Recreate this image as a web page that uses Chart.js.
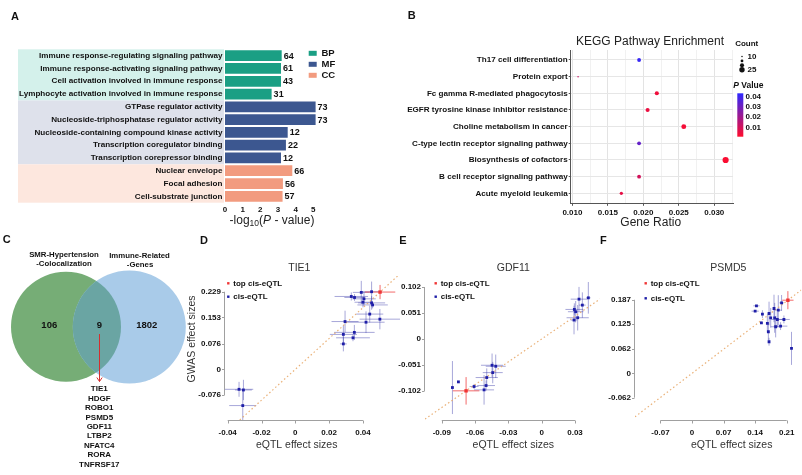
<!DOCTYPE html>
<html>
<head>
<meta charset="utf-8">
<script src="https://cdn.jsdelivr.net/npm/chart.js@4.4.1/dist/chart.umd.min.js"></script>
<style>
html, body { margin: 0; padding: 0; background: #fff; }
#wrap { position: relative; width: 802px; height: 475px; overflow: hidden; }
canvas { position: absolute; }
</style>
</head>
<body>
<div id="wrap">
  <canvas id="panelA" width="400" height="230" style="left:0;top:0"></canvas>
  <canvas id="panelB" width="402" height="230" style="left:400px;top:0"></canvas>
  <canvas id="panelC" width="200" height="245" style="left:0;top:230px"></canvas>
  <canvas id="panelD" width="220" height="245" style="left:180px;top:230px"></canvas>
  <canvas id="panelE" width="220" height="245" style="left:380px;top:230px"></canvas>
  <canvas id="panelF" width="212" height="245" style="left:590px;top:230px"></canvas>
</div>
<script>
// ---- A: GO enrichment ----
const goTerms = [
  'Immune response-regulating signaling pathway',
  'Immune response-activating signaling pathway',
  'Cell activation involved in immune response',
  'Lymphocyte activation involved in immune response',
  'GTPase regulator activity',
  'Nucleoside-triphosphatase regulator activity',
  'Nucleoside-containing compound kinase activity',
  'Transcription coregulator binding',
  'Transcription corepressor binding',
  'Nuclear envelope',
  'Focal adhesion',
  'Cell-substrate junction'
];
const goNegLogP = [3.21, 3.17, 3.17, 2.64, 5.13, 5.13, 3.55, 3.45, 3.17, 3.81, 3.28, 3.26];
const goCounts = [64, 61, 43, 31, 73, 73, 12, 22, 12, 66, 56, 57];
const goCategory = ['BP', 'BP', 'BP', 'BP', 'MF', 'MF', 'MF', 'MF', 'MF', 'CC', 'CC', 'CC'];
const goClasses = ['BP', 'MF', 'CC'];
const goXTicks = [0, 1, 2, 3, 4, 5];

// ---- B: KEGG enrichment ----
const keggPathways = [
  'Th17 cell differentiation',
  'Protein export',
  'Fc gamma R-mediated phagocytosis',
  'EGFR tyrosine kinase inhibitor resistance',
  'Choline metabolism in cancer',
  'C-type lectin receptor signaling pathway',
  'Biosynthesis of cofactors',
  'B cell receptor signaling pathway',
  'Acute myeloid leukemia'
];
const keggGeneRatio = [0.0194, 0.0108, 0.0219, 0.0206, 0.0257, 0.0194, 0.0316, 0.0194, 0.0169];
const keggCount = [19, 10, 20, 20, 23, 19, 28, 19, 17];
const keggPValue = [0.041, 0.012, 0.004, 0.005, 0.003, 0.032, 0.002, 0.010, 0.006];
const keggXTicks = [0.010, 0.015, 0.020, 0.025, 0.030];
const countBreaks = [10, 15, 20, 25];
const pBreaks = [0.01, 0.02, 0.03, 0.04];

// ---- C: Venn ----
const vennSets = [['SMR-Hypertension', '-Colocalization'], ['Immune-Related', '-Genes']];
const vennCounts = [106, 9, 1802];
const sharedGenes = ['TIE1', 'HDGF', 'ROBO1', 'PSMD5', 'GDF11', 'LTBP2', 'NFATC4', 'RORA', 'TNFRSF17'];

// ---- D-F: eQTL vs GWAS effect sizes (index 0 = top cis-eQTL) ----
const tie1Eqtl = [0.0501, 0.0451, 0.0390, 0.0331, 0.0350, 0.0406, 0.0400, 0.0451, 0.0457, 0.0440, 0.0500, 0.0418, 0.0294, 0.0349, 0.0284, 0.0341, 0.0284, -0.0333, -0.0307, -0.0311];
const tie1Gwas = [0.228, 0.229, 0.227, 0.215, 0.212, 0.208, 0.198, 0.196, 0.190, 0.163, 0.148, 0.139, 0.141, 0.109, 0.103, 0.093, 0.075, -0.059, -0.061, -0.107];
const tie1EqtlSe = [0.009, 0.006, 0.005, 0.0099, 0.006, 0.007, 0.005, 0.008, 0.009, 0.008, 0.012, 0.011, 0.008, 0.012, 0.008, 0.010, 0.002, 0.0084, 0.005, 0.008];
const tie1GwasSe = [0.021, 0.030, 0.034, 0.012, 0.010, 0.020, 0.015, 0.020, 0.010, 0.025, 0.030, 0.032, 0.032, 0.022, 0.027, 0.010, 0.022, 0.022, 0.030, 0.044];
const tie1XTicks = [-0.04, -0.02, 0, 0.02, 0.04];
const tie1YTicks = [-0.076, 0, 0.076, 0.153, 0.229];

const gdf11Eqtl = [-0.0681, 0.0336, 0.0420, 0.0366, 0.0294, 0.0306, 0.0324, 0.0291, -0.0804, -0.0750, -0.0609, -0.0519, -0.0501, -0.0495, -0.0441, -0.0447, -0.0414];
const gdf11Gwas = [-0.1017, 0.0782, 0.0808, 0.0665, 0.0580, 0.0535, 0.0417, 0.0372, -0.0952, -0.0841, -0.0932, -0.0998, -0.0913, -0.0756, -0.0659, -0.0515, -0.0535];
const gdf11EqtlSe = [0.012, 0.0075, 0.002, 0.003, 0.008, 0.007, 0.010, 0.003, 0.001, 0, 0.004, 0.009, 0.008, 0.010, 0.009, 0.010, 0.009];
const gdf11GwasSe = [0.027, 0.024, 0.031, 0.025, 0.012, 0.021, 0.025, 0.028, 0.052, 0, 0.005, 0.029, 0.010, 0.018, 0.021, 0.023, 0.023];
const gdf11XTicks = [-0.09, -0.06, -0.03, 0, 0.03];
const gdf11YTicks = [-0.102, -0.051, 0, 0.051, 0.102];

const psmd5Eqtl = [0.2126, 0.1429, 0.1400, 0.1561, 0.1708, 0.1818, 0.1986, 0.1913, 0.2038, 0.1833, 0.1891, 0.1745, 0.1671, 0.1539, 0.1964, 0.1855, 0.1693, 0.1708, 0.2206];
const psmd5Gwas = [0.1859, 0.1715, 0.1580, 0.1504, 0.1521, 0.1648, 0.1791, 0.1606, 0.1369, 0.1411, 0.1369, 0.1411, 0.1268, 0.1284, 0.1200, 0.1183, 0.1056, 0.0803, 0.0634];
const psmd5EqtlSe = [0.0125, 0.007, 0.008, 0.002, 0.003, 0.002, 0.005, 0.008, 0.013, 0.002, 0.013, 0.002, 0.002, 0.002, 0.015, 0.011, 0.002, 0.002, 0.001];
const psmd5GwasSe = [0.023, 0.002, 0.002, 0.010, 0.030, 0.035, 0.020, 0.038, 0.010, 0.038, 0.020, 0.025, 0.023, 0.003, 0.010, 0.027, 0.021, 0.010, 0.042];
const psmd5XTicks = [-0.07, 0, 0.07, 0.14, 0.21];
const psmd5YTicks = [-0.062, 0, 0.062, 0.125, 0.187];

const FONT = 'Arial, "Liberation Sans", Helvetica, sans-serif';
Chart.defaults.font.family = FONT;
Chart.defaults.color = '#111';
Chart.defaults.animation = false;
Chart.defaults.events = [];
Chart.defaults.layout.autoPadding = false;
Chart.defaults.plugins.legend.display = false;
Chart.defaults.plugins.tooltip.enabled = false;

function txt(ctx, s, x, y, font, align, color) {
  ctx.save();
  ctx.font = font;
  ctx.textAlign = align || 'center';
  ctx.textBaseline = 'middle';
  ctx.fillStyle = color || '#111';
  ctx.fillText(s, x, y);
  ctx.restore();
}

// ================= A =================
const goColor = { BP: '#1a9f84', MF: '#3c5790', CC: '#f29b7f' };
const goBand = { BP: '#d4f1eb', MF: '#dee1eb', CC: '#fde7de' };

const goPlugin = {
  id: 'goDecor',
  beforeDraw(chart) {
    const ctx = chart.ctx, ys = chart.scales.y, left = chart.chartArea.left;
    const half = (ys.getPixelForValue(1) - ys.getPixelForValue(0)) / 2;
    goClasses.forEach(cls => {
      const rows = goCategory.map((c, i) => c === cls ? i : -1).filter(i => i >= 0);
      const top = ys.getPixelForValue(rows[0]) - half;
      const bottom = ys.getPixelForValue(rows[rows.length - 1]) + half;
      ctx.fillStyle = goBand[cls];
      ctx.fillRect(18, top, left - 19, bottom - top);
    });
  },
  afterDatasetsDraw(chart) {
    const ctx = chart.ctx;
    chart.getDatasetMeta(0).data.forEach((bar, i) => {
      txt(ctx, String(goCounts[i]), bar.x + 2, bar.y + 0.5, 'bold 9px ' + FONT, 'left');
    });
  },
  afterDraw(chart) {
    const ctx = chart.ctx;
    goClasses.forEach((cls, i) => {
      const y = 53.3 + i * 11;
      ctx.fillStyle = goColor[cls];
      ctx.fillRect(308.7, y - 2.5, 8, 5);
      txt(ctx, cls, 321.5, y, 'bold 9.5px ' + FONT, 'left');
    });
    // -log10(P - value)
    const parts = [
      ['-log', '12px ' + FONT, 0],
      ['10', '8.5px ' + FONT, 3],
      ['(', '12px ' + FONT, 0],
      ['P', 'italic 12px ' + FONT, 0],
      [' - value)', '12px ' + FONT, 0]
    ];
    ctx.save();
    let w = 0;
    parts.forEach(p => { ctx.font = p[1]; w += ctx.measureText(p[0]).width; });
    let x = 272 - w / 2;
    ctx.textBaseline = 'middle';
    ctx.fillStyle = '#222';
    parts.forEach(p => {
      ctx.font = p[1];
      ctx.fillText(p[0], x, 221 + p[2]);
      x += ctx.measureText(p[0]).width;
    });
    ctx.restore();
    txt(ctx, 'A', 15, 17, 'bold 11px ' + FONT);
  }
};

new Chart(document.getElementById('panelA'), {
  type: 'bar',
  data: {
    labels: goTerms,
    datasets: [{
      data: goNegLogP,
      backgroundColor: goCategory.map(c => goColor[c]),
      barPercentage: 0.84,
      categoryPercentage: 1
    }]
  },
  options: {
    indexAxis: 'y',
    responsive: false,
    layout: { padding: { top: 49.3, right: 81.4, left: 0, bottom: 0 } },
    scales: {
      x: {
        min: 0, max: 5.3, bounds: 'data',
        afterBuildTicks: s => { s.ticks = goXTicks.map(v => ({ value: v })); },
        afterFit: s => { s.height = 27.3; },
        grid: { display: false, drawTicks: false },
        border: { display: false },
        ticks: { padding: 2, font: { size: 8, weight: 'bold' }, color: '#111', maxRotation: 0 }
      },
      y: {
        afterFit: s => { s.width = 225; },
        grid: { display: false, drawTicks: false },
        border: { display: false },
        ticks: { padding: 2.5, font: { size: 8.1, weight: 'bold' }, color: '#111', autoSkip: false }
      }
    }
  },
  plugins: [goPlugin]
});

// ================= B =================
const pMin = 0.001, pMax = 0.043;
function pColor(p) {
  const t = Math.max(0, Math.min(1, (p - pMin) / (pMax - pMin)));
  const r = Math.round(255 * (1 - t) + 45 * t);
  const g = Math.round(12 * (1 - t) + 40 * t);
  const b = Math.round(45 * (1 - t) + 255 * t);
  return 'rgb(' + r + ',' + g + ',' + b + ')';
}
function countRadius(c) { return 0.75 + (c - 10) * 0.13; }
function isMajor(v) { return Math.abs(v * 200 - Math.round(v * 200)) < 1e-6; }
const keggGridX = keggXTicks.flatMap(v => [v, v + 0.0025]);

const keggPlugin = {
  id: 'keggDecor',
  afterDraw(chart) {
    const ctx = chart.ctx;
    txt(ctx, 'B', 11.7, 16, 'bold 11px ' + FONT);
    txt(ctx, 'KEGG Pathway Enrichment', 250, 42, '12px ' + FONT, 'center', '#222');
    txt(ctx, 'Gene Ratio', 250.7, 223, '12px ' + FONT, 'center', '#222');
    // size legend
    txt(ctx, 'Count', 346.7, 43.3, 'bold 8px ' + FONT);
    countBreaks.forEach((c, i) => {
      const y = 56.5 + i * 4.4;
      ctx.beginPath();
      ctx.fillStyle = '#111';
      ctx.arc(342, y, countRadius(c), 0, Math.PI * 2);
      ctx.fill();
      if (i === 0 || i === countBreaks.length - 1) {
        txt(ctx, String(c), 347.5, y, 'bold 8px ' + FONT, 'left');
      }
    });
    // p-value colour bar
    ctx.save();
    ctx.font = 'italic bold 8.5px ' + FONT;
    const pw = ctx.measureText('P').width;
    ctx.font = 'bold 8.5px ' + FONT;
    const vw = ctx.measureText(' Value').width;
    const sx = 348.3 - (pw + vw) / 2;
    ctx.restore();
    txt(ctx, 'P', sx, 86, 'italic bold 8.5px ' + FONT, 'left');
    txt(ctx, ' Value', sx + pw, 86, 'bold 8.5px ' + FONT, 'left');
    const top = 93.3, bot = 136.7;
    const grad = ctx.createLinearGradient(0, top, 0, bot);
    for (let k = 0; k <= 10; k++) grad.addColorStop(k / 10, pColor(pMax - k / 10 * (pMax - pMin)));
    ctx.fillStyle = grad;
    ctx.fillRect(337.3, top, 6, bot - top);
    pBreaks.forEach(p => {
      const y = bot - (p - pMin) / (pMax - pMin) * (bot - top);
      txt(ctx, p.toFixed(2), 345.5, y, 'bold 8px ' + FONT, 'left');
    });
  }
};

new Chart(document.getElementById('panelB'), {
  type: 'bubble',
  data: {
    datasets: [{
      data: keggGeneRatio.map((g, i) => ({ x: g, y: i, r: countRadius(keggCount[i]) })),
      backgroundColor: keggPValue.map(pColor),
      borderWidth: 0
    }]
  },
  options: {
    responsive: false,
    layout: { padding: { top: 50, right: 69, left: 0, bottom: 0 } },
    scales: {
      x: {
        type: 'linear', min: 0.00976, max: 0.03264, bounds: 'data',
        afterBuildTicks: s => { s.ticks = keggGridX.map(v => ({ value: v })); },
        afterFit: s => { s.height = 26.7; },
        grid: {
          color: c => isMajor(c.tick.value) ? '#e3e3e3' : '#f1f1f1',
          tickColor: c => isMajor(c.tick.value) ? '#555' : 'rgba(0,0,0,0)',
          tickLength: 2.5
        },
        border: { color: '#555', width: 1 },
        ticks: {
          padding: 2, font: { size: 8, weight: 'bold' }, color: '#111', maxRotation: 0, autoSkip: false,
          callback: v => isMajor(v) ? v.toFixed(3) : ''
        }
      },
      y: {
        type: 'linear', min: -0.6, max: 8.6, reverse: true, bounds: 'data',
        afterBuildTicks: s => { s.ticks = keggPathways.map((p, i) => ({ value: i })); },
        afterFit: s => { s.width = 170.7; },
        grid: { color: '#e6e6e6', tickColor: '#555', tickLength: 2 },
        border: { color: '#555', width: 1 },
        ticks: { padding: 1, font: { size: 8.1, weight: 'bold' }, color: '#111', autoSkip: false, callback: v => keggPathways[v] }
      }
    }
  },
  plugins: [keggPlugin]
});

// ================= C =================
const vennCircles = [{ x: 66, y: 96.7, r: 55 }, { x: 129.3, y: 97, r: 56.5 }];
const vennPlugin = {
  id: 'vennDecor',
  afterDatasetsDraw(chart) {
    const ctx = chart.ctx;
    const [g, b] = chart.getDatasetMeta(0).data;
    ctx.save();
    ctx.beginPath();
    ctx.arc(g.x, g.y, g.options.radius, 0, Math.PI * 2);
    ctx.clip();
    ctx.beginPath();
    ctx.arc(b.x, b.y, b.options.radius, 0, Math.PI * 2);
    ctx.fillStyle = '#6aa5a3';
    ctx.fill();
    ctx.restore();
  },
  afterDraw(chart) {
    const ctx = chart.ctx;
    txt(ctx, 'C', 6.7, 10, 'bold 11px ' + FONT);
    txt(ctx, vennSets[0][0], 64, 25, 'bold 7.8px ' + FONT);
    txt(ctx, vennSets[0][1], 64, 34.3, 'bold 7.8px ' + FONT);
    txt(ctx, vennSets[1][0], 139.5, 25.5, 'bold 7.8px ' + FONT);
    txt(ctx, vennSets[1][1], 140, 35, 'bold 7.8px ' + FONT);
    const cx = [49.3, 99.3, 146.7];
    vennCounts.forEach((n, i) => txt(ctx, String(n), cx[i], 95, 'bold 9.5px ' + FONT));
    // arrow
    ctx.save();
    ctx.strokeStyle = '#d42f2f';
    ctx.lineWidth = 1;
    ctx.beginPath();
    ctx.moveTo(99.5, 104);
    ctx.lineTo(99.5, 151.5);
    ctx.moveTo(96.8, 147.5);
    ctx.lineTo(99.5, 151.5);
    ctx.lineTo(102.2, 147.5);
    ctx.stroke();
    ctx.restore();
    sharedGenes.forEach((gname, i) => txt(ctx, gname, 99.3, 159 + i * 9.45, 'bold 8px ' + FONT));
  }
};

new Chart(document.getElementById('panelC'), {
  type: 'bubble',
  data: {
    datasets: [{
      data: vennCircles.map(c => ({ x: c.x, y: c.y, r: c.r })),
      backgroundColor: ['#76ad76', '#a9cbe9'],
      borderWidth: 0,
      clip: false
    }]
  },
  options: {
    responsive: false,
    layout: { padding: 0, autoPadding: false },
    scales: {
      x: { display: false, type: 'linear', min: 0, max: 200 },
      y: { display: false, type: 'linear', min: 0, max: 245, reverse: true }
    }
  },
  plugins: [vennPlugin]
});

// ================= D, E, F =================
function eqtlChart(id, p) {
  const L = p.canvasLeft, T = 230;
  const slope = p.gwas[0] / p.eqtl[0];
  const pts = p.eqtl.map((x, i) => ({ x: x, y: p.gwas[i] }));
  const decor = {
    id: 'decor' + id,
    beforeDatasetsDraw(chart) {
      const ctx = chart.ctx, xs = chart.scales.x, ys = chart.scales.y;
      ctx.save();
      ctx.lineWidth = 1;
      for (let i = pts.length - 1; i >= 0; i--) {
        ctx.strokeStyle = i === 0 ? 'rgba(240,70,70,0.8)' : 'rgba(60,60,170,0.45)';
        const cx = xs.getPixelForValue(pts[i].x), cy = ys.getPixelForValue(pts[i].y);
        ctx.beginPath();
        if (p.eqtlSe[i] > 0) {
          ctx.moveTo(xs.getPixelForValue(pts[i].x - p.eqtlSe[i]), cy);
          ctx.lineTo(xs.getPixelForValue(pts[i].x + p.eqtlSe[i]), cy);
        }
        if (p.gwasSe[i] > 0) {
          ctx.moveTo(cx, ys.getPixelForValue(pts[i].y - p.gwasSe[i]));
          ctx.lineTo(cx, ys.getPixelForValue(pts[i].y + p.gwasSe[i]));
        }
        ctx.stroke();
      }
      ctx.restore();
    },
    afterDraw(chart) {
      const ctx = chart.ctx, xs = chart.scales.x, ys = chart.scales.y, a = chart.chartArea;
      ctx.save();
      ctx.strokeStyle = '#a0a0a0';
      ctx.lineWidth = 1;
      ctx.beginPath();
      const yb = a.bottom + 0.5;
      ctx.moveTo(xs.getPixelForValue(p.xTicks[0]), yb);
      ctx.lineTo(xs.getPixelForValue(p.xTicks[p.xTicks.length - 1]), yb);
      p.xTicks.forEach(v => {
        const x = Math.round(xs.getPixelForValue(v)) + 0.5;
        ctx.moveTo(x, yb); ctx.lineTo(x, yb + 3);
      });
      const xl = Math.round(a.left) - 0.5;
      ctx.moveTo(xl, ys.getPixelForValue(p.yTicks[0]));
      ctx.lineTo(xl, ys.getPixelForValue(p.yTicks[p.yTicks.length - 1]));
      p.yTicks.forEach(v => {
        const y = Math.round(ys.getPixelForValue(v)) + 0.5;
        ctx.moveTo(xl, y); ctx.lineTo(xl - 2.5, y);
      });
      ctx.stroke();
      ctx.restore();
      // legend
      [['top cis-eQTL', '#f03535', p.legY[0]], ['cis-eQTL', '#1f1fa8', p.legY[1]]].forEach(it => {
        ctx.fillStyle = it[1];
        ctx.fillRect(p.legX - L - 1.2, it[2] - T - 1.2, 2.4, 2.4);
        txt(ctx, it[0], p.legX - L + 5, it[2] - T, 'bold 8px ' + FONT, 'left');
      });
      txt(ctx, p.title, p.titleX - L, 268 - T, '10.5px ' + FONT, 'center', '#333');
      txt(ctx, 'eQTL effect sizes', p.xTitleX - L, 445 - T, '10.5px ' + FONT, 'center', '#333');
      if (p.yTitle) {
        ctx.save();
        ctx.translate(192 - L, 339 - T);
        ctx.rotate(-Math.PI / 2);
        txt(ctx, p.yTitle, 0, 0, '10.5px ' + FONT, 'center', '#333');
        ctx.restore();
      }
      txt(ctx, p.letter, p.letterX - L, 241 - T, 'bold 11px ' + FONT);
    }
  };
  const tickOpts = { font: { size: 8, weight: 'bold' }, color: '#111', autoSkip: false, maxRotation: 0, callback: v => String(v) };
  new Chart(document.getElementById(id), {
    type: 'scatter',
    data: {
      datasets: [
        { data: pts.slice(0, 1), pointStyle: 'rect', pointRadius: 2.4, backgroundColor: '#f03535', borderWidth: 0 },
        { data: pts.slice(1), pointStyle: 'rect', pointRadius: 2, backgroundColor: '#1f1fa8', borderWidth: 0 },
        {
          type: 'line',
          data: [{ x: p.xRange[0], y: slope * p.xRange[0] }, { x: p.xRange[1], y: slope * p.xRange[1] }],
          borderColor: 'rgba(232,168,105,0.9)', borderWidth: 1.2, borderDash: [1.5, 2.5], pointRadius: 0
        }
      ]
    },
    options: {
      responsive: false,
      layout: { padding: { top: 46, right: 0, left: 0, bottom: 0 }, autoPadding: false },
      scales: {
        x: {
          type: 'linear', min: p.xRange[0], max: p.xRange[1], bounds: 'data',
          afterBuildTicks: s => { s.ticks = p.xTicks.map(v => ({ value: v })); },
          afterFit: s => { s.height = 55; },
          grid: { display: false, drawTicks: false },
          border: { display: false },
          ticks: Object.assign({ padding: 7.5 }, tickOpts)
        },
        y: {
          type: 'linear', min: p.yRange[0], max: p.yRange[1], bounds: 'data',
          afterBuildTicks: s => { s.ticks = p.yTicks.map(v => ({ value: v })); },
          afterFit: s => { s.width = 45; },
          grid: { display: false, drawTicks: false },
          border: { display: false },
          ticks: Object.assign({ padding: 4 }, tickOpts)
        }
      }
    },
    plugins: [decor]
  });
}

eqtlChart('panelD', {
  canvasLeft: 180, letter: 'D', letterX: 204, title: 'TIE1', titleX: 299.3, xTitleX: 296.7,
  yTitle: 'GWAS effect sizes', legX: 228.3, legY: [283.3, 296.7],
  eqtl: tie1Eqtl, gwas: tie1Gwas, eqtlSe: tie1EqtlSe, gwasSe: tie1GwasSe,
  xTicks: tie1XTicks, yTicks: tie1YTicks, xRange: [-0.0416, 0.0619], yRange: [-0.1496, 0.2754]
});
eqtlChart('panelE', {
  canvasLeft: 380, letter: 'E', letterX: 403, title: 'GDF11', titleX: 513.3, xTitleX: 513.3,
  legX: 435.7, legY: [283.3, 296.7],
  eqtl: gdf11Eqtl, gwas: gdf11Gwas, eqtlSe: gdf11EqtlSe, gwasSe: gdf11GwasSe,
  xTicks: gdf11XTicks, yTicks: gdf11YTicks, xRange: [-0.1051, 0.0525], yRange: [-0.1589, 0.1236]
});
eqtlChart('panelF', {
  canvasLeft: 590, letter: 'F', letterX: 603.3, title: 'PSMD5', titleX: 728.3, xTitleX: 731.7,
  legX: 645.7, legY: [283.3, 298.3],
  eqtl: psmd5Eqtl, gwas: psmd5Gwas, eqtlSe: psmd5EqtlSe, gwasSe: psmd5GwasSe,
  xTicks: psmd5XTicks, yTicks: psmd5YTicks, xRange: [-0.1265, 0.2422], yRange: [-0.1187, 0.2474]
});
</script>
</body>
</html>
